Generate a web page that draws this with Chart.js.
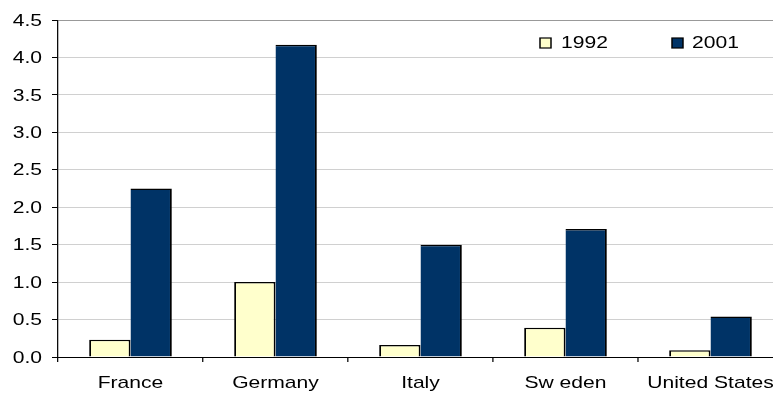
<!DOCTYPE html>
<html>
<head>
<meta charset="utf-8">
<script src="https://cdn.jsdelivr.net/npm/chart.js@4.4.0/dist/chart.umd.min.js"></script>
<style>
  html, body { margin: 0; padding: 0; background: #fff; overflow: hidden; }
  canvas { display: block; }
</style>
</head>
<body>
<canvas id="c" width="773" height="394"></canvas>
<script>
// ---- data ----
const categories = ["France", "Germany", "Italy", "Sw eden", "United States"];
const seriesNames = ["1992", "2001"];
const values1992 = [0.23, 1.00, 0.16, 0.39, 0.09];
const values2001 = [2.25, 4.17, 1.50, 1.71, 0.54];
const yTicks = [0.0, 0.5, 1.0, 1.5, 2.0, 2.5, 3.0, 3.5, 4.0, 4.5];

// ---- styling / layout ----
const S = 1.24;            // horizontal stretch of the reference image
const FONT = '"Liberation Sans", Arial, sans-serif';
const FSIZE = 17;
const colors = ["#FFFFCC", "#003366"];

const stretchPlugin = {
  id: 'stretch',
  beforeDraw(chart) {
    chart.ctx.save();
    chart.ctx.scale(S, 1);
  },
  afterDraw(chart) {
    const ctx = chart.ctx;
    ctx.save();
    ctx.font = FSIZE + 'px ' + FONT;
    ctx.fillStyle = '#000';
    // y tick labels
    const ys = chart.scales.y;
    ctx.textAlign = 'right';
    ctx.textBaseline = 'middle';
    yTicks.forEach(v => {
      ctx.fillText(v.toFixed(1), 42 / S, ys.getPixelForValue(v) + 1);
    });
    // legend inside plot area, top-right
    const items = [
      { box: 540, text: 561 },
      { box: 672, text: 692 }
    ];
    ctx.textAlign = 'left';
    chart.data.datasets.forEach((ds, i) => {
      const it = items[i];
      ctx.fillStyle = ds.backgroundColor;
      ctx.fillRect(it.box / S, 38, 11 / S, 10);
      ctx.lineWidth = 1.2;
      ctx.strokeStyle = '#000';
      ctx.strokeRect(it.box / S, 38, 11 / S, 10);
      ctx.fillStyle = '#000';
      ctx.fillText(ds.label, it.text / S, 43);
    });
    ctx.restore();
    ctx.restore();
  }
};

new Chart(document.getElementById('c'), {
  type: 'bar',
  data: {
    labels: categories,
    datasets: [
      { label: seriesNames[0], data: values1992, backgroundColor: colors[0], borderColor: '#000',
        borderWidth: { top: 1.5, left: 1.5, right: 1.5, bottom: 0 } },
      { label: seriesNames[1], data: values2001, backgroundColor: colors[1], borderColor: '#000',
        borderWidth: { top: 1.5, left: 0, right: 1.5, bottom: 0 } }
    ]
  },
  options: {
    responsive: false,
    animation: false,
    devicePixelRatio: 1,
    layout: { padding: { left: 0, top: 20, right: 773 - 783 / S, bottom: 0 } },
    plugins: { legend: { display: false }, tooltip: { enabled: false } },
    datasets: { bar: { categoryPercentage: 0.57, barPercentage: 1.0 } },
    scales: {
      x: {
        afterFit(scale) { scale.height = 37; },
        grid: { offset: true, drawOnChartArea: false, drawTicks: true, tickLength: 5, tickColor: '#000' },
        border: { display: true, color: '#000', width: 1 },
        ticks: { color: '#000', font: { family: FONT, size: FSIZE }, padding: 11, maxRotation: 0, autoSkip: false }
      },
      y: {
        min: 0, max: 4.5,
        afterFit(scale) { scale.width = 58 / S; },
        afterBuildTicks(scale) { scale.ticks = yTicks.map(v => ({ value: v })); },
        grid: {
          color: (c) => (c.tick && c.tick.value === 4.5 ? '#999999' : '#D0D0D0'),
          tickColor: '#000', tickLength: 6 / S, lineWidth: 1
        },
        border: { display: true, color: '#000', width: 1 },
        ticks: { display: false }
      }
    }
  },
  plugins: [stretchPlugin]
});
</script>
</body>
</html>
